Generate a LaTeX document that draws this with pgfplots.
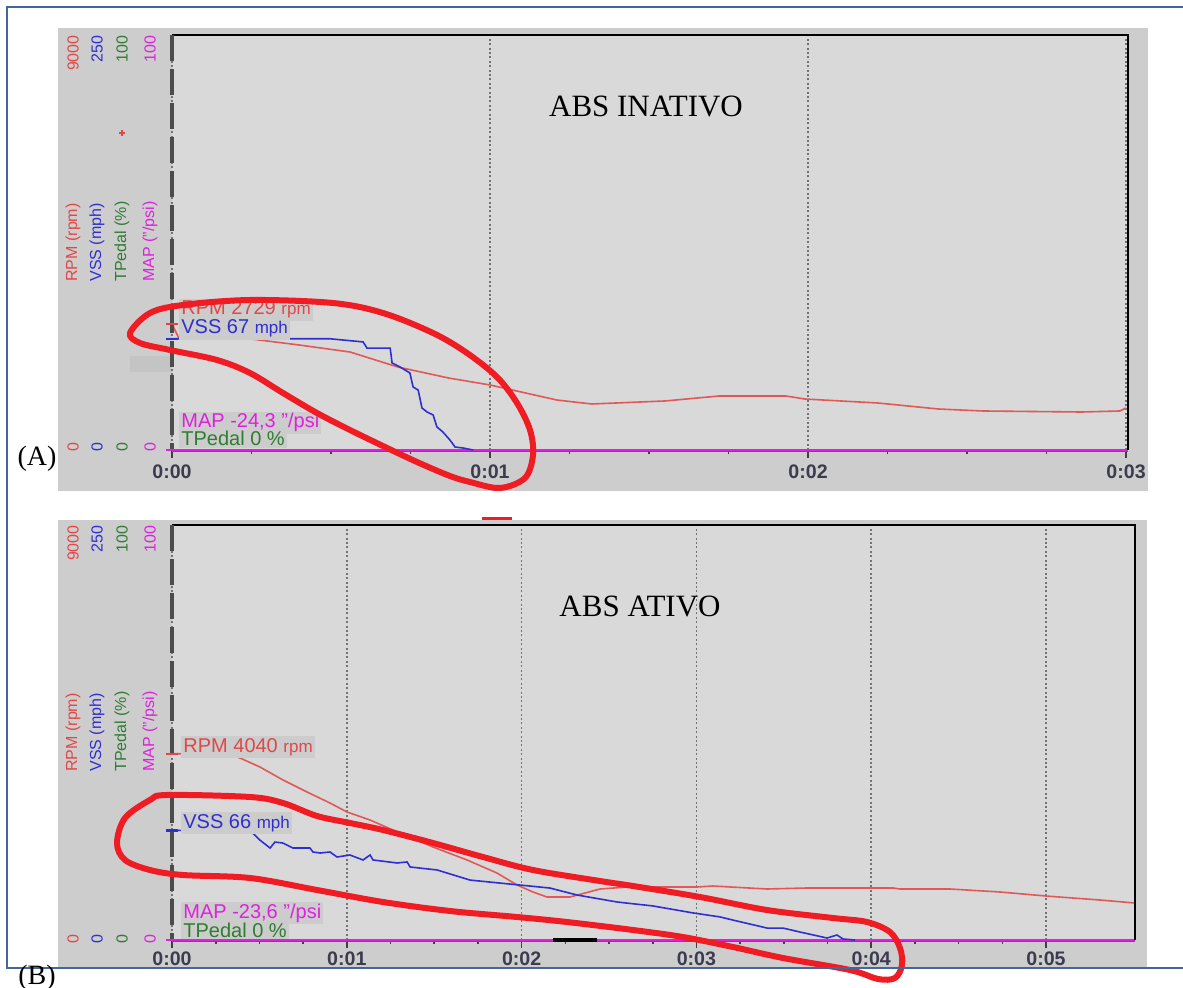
\documentclass[border=0pt]{standalone}
\usepackage{pgfplots}
\pgfplotsset{compat=1.18}
\usepackage{fontspec}
\setmainfont{Liberation Sans}
\newfontfamily\serifA{Liberation Serif}
\definecolor{rpmred}{HTML}{E04848}
\definecolor{rpmline}{HTML}{E05858}
\definecolor{vssblue}{HTML}{2F2FD0}
\definecolor{tpgreen}{HTML}{2E7D32}
\definecolor{mapmag}{HTML}{E020E0}
\definecolor{annred}{HTML}{F01C24}
\definecolor{framebl}{HTML}{4466A0}
\definecolor{outgray}{HTML}{CDCDCD}
\definecolor{plotgray}{HTML}{D9D9D9}
\definecolor{boxgray}{HTML}{CCCCCC}
\definecolor{tickcol}{HTML}{3C3C50}
\definecolor{smudge}{HTML}{C4C4C4}

\pgfplotsset{
  panel/.style={
    scale only axis, anchor=south west,
    height=207.5pt, ymin=0, ymax=9000, xmin=0,
    axis line style={draw=none},
    ytick=\empty,
    xtick pos=left, xticklabel pos=left,
    tick align=outside,
    minor x tick num=3,
    major tick length=4pt, minor tick length=2.2pt,
    major tick style={black!75, line width=0.8pt},
    minor tick style={black!75, line width=0.8pt},
    xmajorgrids,
    major x grid style={draw=black!55, line width=0.8pt, dash pattern=on 1pt off 1.2pt},
    xticklabel style={font=\bfseries\fontsize{9.8}{10}\selectfont, text=tickcol},
    scaled x ticks=false,
    clip=false,
  },
  vsspanel/.style={
    scale only axis, anchor=south west,
    height=207.5pt, ymin=0, ymax=250, xmin=0,
    hide axis, clip=false,
  },
}

\begin{document}
\begin{tikzpicture}
\useasboundingbox (0,0) rectangle (591.5pt,-494pt);

% ---------- background panels (pixel scope) ----------
\begin{scope}[x=0.5pt,y=-0.5pt]
  \fill[outgray] (58,28) rectangle (1148,491);
  \fill[plotgray] (172,35) rectangle (1128,450);
  \fill[outgray] (58,520) rectangle (1147,967);
  \fill[plotgray] (172,525) rectangle (1135,940);
  \fill[smudge] (130,356) rectangle (171,372);
\end{scope}

% ---------------- Panel A ----------------
\begin{axis}[panel, at={(86pt,-225pt)}, width=478pt, xmax=0.03006,
  xtick={0,0.01,0.02,0.03}, xticklabels={0:00,0:01,0:02,0:03}]
  \addplot[tpgreen, line width=0.8pt, yshift=-0.8pt] coordinates {(0,0) (0.03006,0)};
  \addplot[mapmag, line width=1pt] coordinates {(0,0) (0.03006,0)};
  \addplot[rpmline, line width=0.8pt] coordinates {
    (0,2729) (0.0002,2450) (0.0025,2407) (0.0040,2277) (0.0056,2125)
    (0.0071,1800) (0.0087,1561) (0.0100,1410) (0.0121,1084) (0.0132,998)
    (0.0155,1063) (0.0172,1171) (0.0193,1171) (0.0199,1106) (0.0222,1019)
    (0.0241,889) (0.0255,846) (0.0286,824) (0.0298,846) (0.0300,911)};
  \addplot[rpmred, only marks, mark=-, mark size=3.2pt, mark options={line width=1.2pt}] coordinates {(0,2729)};
  \addplot[mapmag, only marks, mark=-, mark size=3.2pt, mark options={line width=1.2pt}] coordinates {(0,0)};
  \draw[black, line width=1pt] (rel axis cs:0,1) -- (rel axis cs:1,1) -- (rel axis cs:1,0);
  \draw[black!70, line width=1.6pt, dash pattern=on 13pt off 4pt] (rel axis cs:0,1) -- (rel axis cs:0,0);
\end{axis}
\begin{axis}[vsspanel, at={(86pt,-225pt)}, width=478pt, xmax=0.03006]
  \addplot[vssblue, line width=0.8pt] coordinates {
    (0,67) (0.00497,67) (0.00601,65.1) (0.00613,61.4) (0.00686,61.4)
    (0.00692,52.4) (0.00717,50.0) (0.00748,46.4) (0.00758,38.0) (0.00774,36.1)
    (0.00786,25.3) (0.00802,22.9) (0.00821,21.1) (0.00833,13.9) (0.00852,10.8)
    (0.00874,6.0) (0.00890,1.8) (0.00915,1.2) (0.00947,0)};
  \addplot[vssblue, only marks, mark=-, mark size=3.2pt, mark options={line width=1.2pt}] coordinates {(0,67)};
\end{axis}

% ---------------- Panel B ----------------
\begin{axis}[panel, at={(86pt,-470pt)}, width=481.5pt, xmax=0.05509,
  xtick={0,0.01,0.02,0.03,0.04,0.05}, xticklabels={0:00,0:01,0:02,0:03,0:04,0:05},
  xticklabel shift=-1.5pt]
  \addplot[tpgreen, line width=0.8pt, yshift=-0.8pt] coordinates {(0,0) (0.05509,0)};
  \addplot[mapmag, line width=1pt] coordinates {(0,0) (0.05509,0)};
  \addplot[black, line width=1.6pt] coordinates {(0.0218,0) (0.0243,0)};
  \addplot[rpmline, line width=0.8pt] coordinates {
    (0,4040) (0.00315,4040) (0.00389,3947) (0.00503,3752) (0.00635,3470)
    (0.00772,3210) (0.00904,2971) (0.01001,2776) (0.01133,2602) (0.01304,2320)
    (0.01493,2017) (0.01688,1735) (0.01859,1453) (0.01974,1193) (0.02065,1041)
    (0.02145,933) (0.02277,933) (0.02449,1106) (0.02603,1149) (0.03003,1149)
    (0.03095,1171) (0.03404,1106) (0.03633,1128) (0.04125,1128) (0.04165,1106)
    (0.04451,1106) (0.04737,1041) (0.05000,954) (0.05309,867) (0.05509,802)};
  \addplot[rpmred, only marks, mark=-, mark size=3.2pt, mark options={line width=1.2pt}] coordinates {(0,4040)};
  \addplot[mapmag, only marks, mark=-, mark size=3.2pt, mark options={line width=1.2pt}] coordinates {(0,0)};
  \draw[black, line width=1pt] (rel axis cs:0,1) -- (rel axis cs:1,1) -- (rel axis cs:1,0);
  \draw[black!70, line width=1.6pt, dash pattern=on 13pt off 4pt] (rel axis cs:0,1) -- (rel axis cs:0,0);
\end{axis}
\begin{axis}[vsspanel, at={(86pt,-470pt)}, width=481.5pt, xmax=0.05509]
  \addplot[vssblue, line width=0.8pt] coordinates {
    (0,66) (0.00446,66) (0.00503,60.2) (0.00561,55.4) (0.00589,59.0)
    (0.00635,58.4) (0.00692,55.4) (0.00789,55.4) (0.00807,53.0) (0.00847,52.4)
    (0.00904,53.0) (0.00944,50.0) (0.01018,51.2) (0.01093,48.2) (0.01133,51.2)
    (0.01150,48.2) (0.01287,46.4) (0.01345,47.0) (0.01362,44.0) (0.01516,42.2)
    (0.01705,36.1) (0.01876,34.3) (0.01991,33.1) (0.02162,31.3) (0.02317,27.1)
    (0.02546,22.9) (0.02752,20.5) (0.02981,16.3) (0.03135,13.9) (0.03209,12.0)
    (0.03404,7.2) (0.03495,7.2) (0.03593,4.8) (0.03747,1.2) (0.03804,3.0)
    (0.03839,0.6) (0.03907,0)};
  \addplot[vssblue, only marks, mark=-, mark size=3.2pt, mark options={line width=1.2pt}] coordinates {(0,66)};
\end{axis}

% ---------- decorations (pixel scope) ----------
\begin{scope}[x=0.5pt,y=-0.5pt]
  % left rotated labels
  \begin{scope}[every node/.style={rotate=90, inner sep=0pt, font=\fontsize{8}{8}\selectfont}]
    \node[anchor=east, text=rpmred] at (73,35) {9000};
    \node[anchor=east, text=vssblue] at (97,35) {250};
    \node[anchor=east, text=tpgreen] at (122,35) {100};
    \node[anchor=east, text=mapmag] at (150,35) {100};
    \node[anchor=west, text=rpmred] at (73,282) {RPM (rpm)};
    \node[anchor=west, text=vssblue] at (97,282) {VSS (mph)};
    \node[anchor=west, text=tpgreen] at (122,282) {TPedal (\%)};
    \node[anchor=west, text=mapmag] at (150,282) {MAP ("/psi)};
    \node[text=rpmred] at (73,447) {0};
    \node[text=vssblue] at (97,447) {0};
    \node[text=tpgreen] at (122,447) {0};
    \node[text=mapmag] at (150,447) {0};
    \node[anchor=east, text=rpmred] at (73,525) {9000};
    \node[anchor=east, text=vssblue] at (97,525) {250};
    \node[anchor=east, text=tpgreen] at (122,525) {100};
    \node[anchor=east, text=mapmag] at (150,525) {100};
    \node[anchor=west, text=rpmred] at (73,772) {RPM (rpm)};
    \node[anchor=west, text=vssblue] at (97,772) {VSS (mph)};
    \node[anchor=west, text=tpgreen] at (122,772) {TPedal (\%)};
    \node[anchor=west, text=mapmag] at (150,772) {MAP ("/psi)};
    \node[text=rpmred] at (73,939) {0};
    \node[text=vssblue] at (97,939) {0};
    \node[text=tpgreen] at (122,939) {0};
    \node[text=mapmag] at (150,939) {0};
  \end{scope}
  \draw[rpmred, line width=0.9pt] (119,133) -- (125,133) (122,130) -- (122,136);

  % readout labels
  \begin{scope}[every node/.style={anchor=base west, fill=boxgray, inner sep=1pt}]
    \node[text=rpmred] at (179,315) {\fontsize{10}{10}\selectfont RPM 2729 \fontsize{8.5}{9}\selectfont rpm};
    \node[text=vssblue] at (179,334) {\fontsize{10}{10}\selectfont VSS 67 \fontsize{8.5}{9}\selectfont mph};
    \node[text=mapmag] at (179,428) {\fontsize{10}{10}\selectfont MAP -24,3 "/psi};
    \node[text=tpgreen] at (179,446) {\fontsize{10}{10}\selectfont TPedal 0 \%};
    \node[text=rpmred] at (181,752) {\fontsize{10}{10}\selectfont RPM 4040 \fontsize{8.5}{9}\selectfont rpm};
    \node[text=vssblue] at (181,828) {\fontsize{10}{10}\selectfont VSS 66 \fontsize{8.5}{9}\selectfont mph};
    \node[text=mapmag] at (181,918) {\fontsize{10}{10}\selectfont MAP -23,6 "/psi};
    \node[text=tpgreen] at (181,937) {\fontsize{10}{10}\selectfont TPedal 0 \%};
  \end{scope}

  % titles
  \node[anchor=base, font=\serifA\fontsize{15.5}{16}\selectfont] at (646,117) {ABS INATIVO};
  \node[anchor=base, font=\serifA\fontsize{15.5}{16}\selectfont] at (640,617) {ABS ATIVO};

  % hand-drawn annotation ellipses
  \draw[annred, line width=3pt, line join=round] plot[smooth cycle, tension=0.55] coordinates {
    (130,333) (150,313) (183,305) (250,300) (333,303) (383,313) (433,333) (467,353)
    (497,377) (517,403) (530,430) (533,455) (525,478) (500,488) (470,482) (450,476)
    (417,462) (383,446) (350,430) (317,413) (283,393) (250,373) (217,360) (170,350) (140,343)};
  \draw[annred, line width=3pt, line join=round] plot[smooth cycle, tension=0.55] coordinates {
    (117,843) (125,818) (150,800) (167,795) (250,797) (283,803) (317,816) (350,823)
    (383,830) (433,843) (483,857) (533,870) (600,881) (633,886) (700,897) (767,910)
    (833,918) (867,922) (890,932) (900,948) (902,965) (895,978) (878,979) (850,970)
    (783,958) (733,947) (683,937) (633,930) (567,922) (517,917) (450,911) (383,902)
    (317,890) (250,878) (183,875) (150,870) (125,860)};
  \draw[annred, line width=1.5pt] (482,519) -- (512,519);

  % outer frame and panel letters
  \draw[framebl, line width=1pt] (1183,7) -- (7,7) -- (7,968) -- (1183,968);
  \node[anchor=base, font=\serifA\fontsize{14}{15}\selectfont] at (37,466) {(A)};
  \node[anchor=base, font=\serifA\fontsize{14}{15}\selectfont] at (37,984) {(B)};
\end{scope}
\end{tikzpicture}
\end{document}
